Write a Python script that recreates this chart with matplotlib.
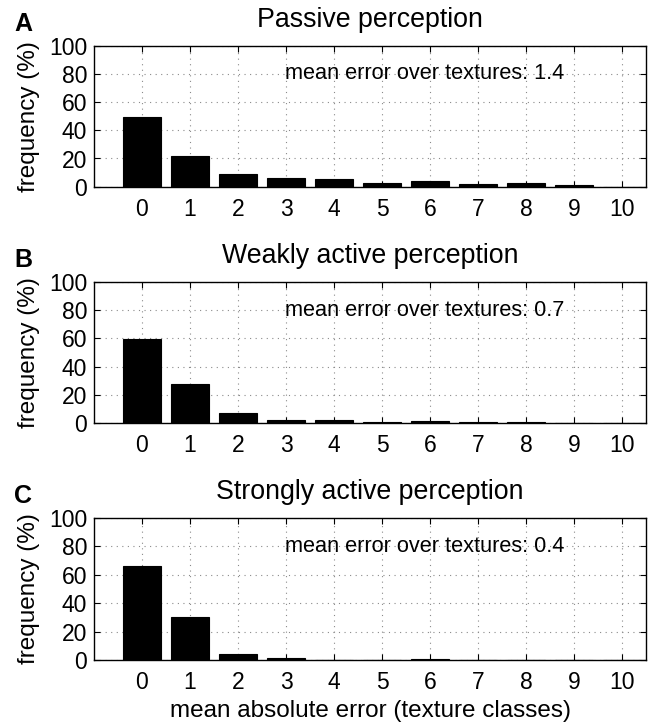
import matplotlib
matplotlib.use("Agg")
import matplotlib.pyplot as plt
import numpy as np

plt.rcParams['font.family'] = ['Liberation Sans', 'DejaVu Sans']

error_classes = list(range(11))
tick_labels = [str(i) for i in error_classes]

passive = [49.5, 22.0, 8.8, 5.9, 5.2, 2.6, 4.0, 1.7, 2.6, 1.2, 0.0]
weakly_active = [59.7, 27.8, 7.3, 2.1, 2.1, 0.9, 1.4, 0.8, 0.8, 0.4, 0.0]
strongly_active = [65.8, 30.0, 4.3, 1.2, 0.3, 0.0, 0.6, 0.3, 0.0, 0.0, 0.0]

titles = ["Passive perception", "Weakly active perception", "Strongly active perception"]
letters = ["A", "B", "C"]
mean_errors = ["1.4", "0.7", "0.4"]
yticks = [0, 20, 40, 60, 80, 100]

fig = plt.figure(figsize=(6.57, 7.23), dpi=100)
W, H = 657, 723
boxes = [(45.7, 186.7), (281.7, 423.3), (517.7, 660)]
left, right = 94, 646
series = [passive, weakly_active, strongly_active]

for i, (top, bot) in enumerate(boxes):
    ax = fig.add_axes([left / W, 1 - bot / H, (right - left) / W, (bot - top) / H])
    ax.bar(error_classes, series[i], width=0.8, color='black', edgecolor='black',
           linewidth=0.8, zorder=3)
    ax.set_xlim(-1, 10.5)
    ax.set_ylim(0, 100)
    ax.set_xticks(error_classes)
    ax.set_xticklabels(tick_labels)
    ax.set_yticks(yticks)
    ax.tick_params(direction='in', top=True, right=True, length=4.5, width=0.8,
                   labelsize=16.5)
    ax.tick_params(axis='x', pad=8)
    ax.tick_params(axis='y', pad=5)
    ax.grid(True, linestyle=(0, (1, 4)), color='#8a8a8a', linewidth=0.8, zorder=0)
    for s in ax.spines.values():
        s.set_linewidth(1.0)
        s.set_zorder(4)
    ax.set_ylabel("frequency (%)", fontsize=17.5, labelpad=6)
    ax.set_title(titles[i], fontsize=19.3, pad=13.5)
    ax.text(2.97, 80, "mean error over textures: " + mean_errors[i], fontsize=15.7,
            ha='left', va='center', zorder=5)
    fig.text(23 / W, 1 - (top - 22) / H, letters[i], fontsize=18, fontweight='bold',
             ha='center', va='center')
    if i == 2:
        ax.set_xlabel("mean absolute error (texture classes)", fontsize=17.5, labelpad=4)

fig.savefig("out.png", dpi=100)
